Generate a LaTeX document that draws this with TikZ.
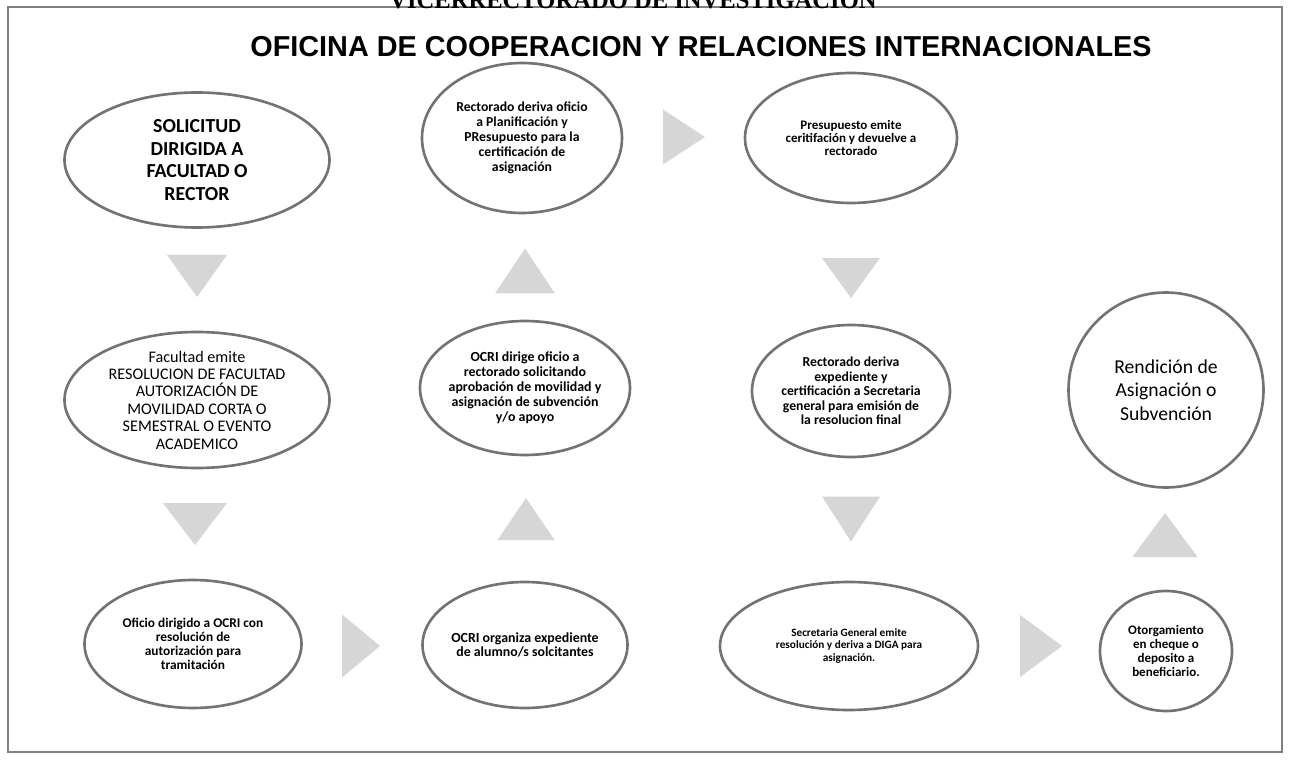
\documentclass[tikz,border=0pt]{standalone}
\usepackage{fontspec}
\setmainfont{Carlito}
\newfontfamily\titlefont{Liberation Sans}
\newfontfamily\headfont{Liberation Serif}
\usetikzlibrary{shapes.geometric}
\tikzset{
x=0.02cm, y=-0.02cm,
ovalsize/.style 2 args={minimum width=#1*0.02cm, minimum height=#2*0.02cm},
paso/.style={ellipse, draw=black!55, line width=1.5pt, fill=white, inner sep=0pt},
txt/.style={align=center, inner sep=0pt, font=\bfseries\fontsize{7.8}{8.6}\selectfont},
flecha/.style={fill=black!16},
marco/.style={draw=black!50, line width=1.2pt},
}
% triangles: center, base, length
\newcommand{\flechaabajo}[3]{\fill[flecha] (#1) ++({-0.5*#2},{-0.5*#3}) -- ++(#2,0) -- ++({-0.5*#2},#3) -- cycle;}
\newcommand{\flechaarriba}[3]{\fill[flecha] (#1) ++({-0.5*#2},{0.5*#3}) -- ++(#2,0) -- ++({-0.5*#2},{-#3}) -- cycle;}
\newcommand{\flechaderecha}[3]{\fill[flecha] (#1) ++({-0.5*#3},{-0.5*#2}) -- ++(0,#2) -- ++(#3,{-0.5*#2}) -- cycle;}

\begin{document}
\begin{tikzpicture}
    \useasboundingbox (0,0) rectangle (1289,760);
    \clip (0,0) rectangle (1289,760);
    \fill[white] (0,0) rectangle (1289,760);
    \draw[marco] (8,7) rectangle (1282,752);

    \node[anchor=base, font=\headfont\bfseries\fontsize{14}{14}\selectfont] (vice) at (633,9) {VICERRECTORADO DE INVESTIGACION};
    \node[anchor=base, font=\titlefont\bfseries\fontsize{16.4}{18}\selectfont] (titulo) at (701,57) {OFICINA DE COOPERACION Y RELACIONES INTERNACIONALES};

    % first column
    \node[paso, ovalsize={265}{135}, label={[txt, font=\bfseries\fontsize{11.3}{13}\selectfont]center:SOLICITUD\\DIRIGIDA A\\FACULTAD O\\RECTOR}] (n1) at (197,160) {};
    \node[paso, ovalsize={265}{136}, label={[txt, font=\fontsize{9.2}{9.9}\selectfont]center:Facultad emite\\RESOLUCION DE FACULTAD\\AUTORIZACIÓN DE\\MOVILIDAD CORTA O\\SEMESTRAL O EVENTO\\ACADEMICO}] (n4) at (197,400) {};
    \node[paso, ovalsize={217}{128}, label={[txt, font=\bfseries\fontsize{7.6}{8}\selectfont]center:Oficio dirigido a OCRI con\\resolución de\\autorización para\\tramitación}] (n7) at (193,644) {};

    % second column
    \node[paso, ovalsize={205}{126}, label={[txt, font=\bfseries\fontsize{7.9}{8}\selectfont]center:OCRI organiza expediente\\de alumno/s solcitantes}] (n8) at (525,645) {};
    \node[paso, ovalsize={210}{134}, label={[txt, font=\bfseries\fontsize{7.9}{8.5}\selectfont]center:OCRI dirige oficio a\\rectorado solicitando\\aprobación de movilidad y\\asignación de subvención\\y/o apoyo}] (n5) at (525,388) {};
    \node[paso, ovalsize={200}{150}, label={[txt]center:Rectorado deriva oficio\\a Planificación y\\PResupuesto para la\\certificación de\\asignación}] (n2) at (522,138) {};

    % third column
    \node[paso, ovalsize={212}{130}, label={[txt, font=\bfseries\fontsize{7.4}{7.4}\selectfont]center:Presupuesto emite\\ceritifación y devuelve a\\rectorado}] (n3) at (851,138) {};
    \node[paso, ovalsize={198}{132}, label={[txt, font=\bfseries\fontsize{7.8}{8.2}\selectfont]center:Rectorado deriva\\expediente y\\certificación a Secretaria\\general para emisión de\\la resolucion final}] (n6) at (851,391) {};
    \node[paso, ovalsize={258}{128}, label={[txt, font=\bfseries\fontsize{6.4}{7.1}\selectfont]center:Secretaria General emite\\resolución y deriva a DIGA para\\asignación.}] (n9) at (849,646) {};

    % last column
    \node[paso, ovalsize={132}{120}, label={[txt, font=\bfseries\fontsize{7.4}{7.9}\selectfont]center:Otorgamiento\\en cheque o\\deposito a\\beneficiario.}] (n10) at (1166,651) {};
    \node[paso, ovalsize={195}{195}, label={[txt, font=\fontsize{11.2}{13.3}\selectfont]center:Rendición de\\Asignación o\\Subvención}] (n11) at (1166,390) {};

    % arrows
    \flechaabajo{197,276}{60}{42}
    \flechaabajo{195,524}{64}{42}
    \flechaderecha{361,646}{63}{38}
    \flechaarriba{526,519}{57}{42}
    \flechaarriba{525,271}{60}{45}
    \flechaderecha{684,137}{55}{42}
    \flechaabajo{851,278}{58}{40}
    \flechaabajo{851,519}{58}{45}
    \flechaderecha{1041,646}{62}{42}
    \flechaarriba{1165,535}{65}{44}
\end{tikzpicture}
\end{document}
